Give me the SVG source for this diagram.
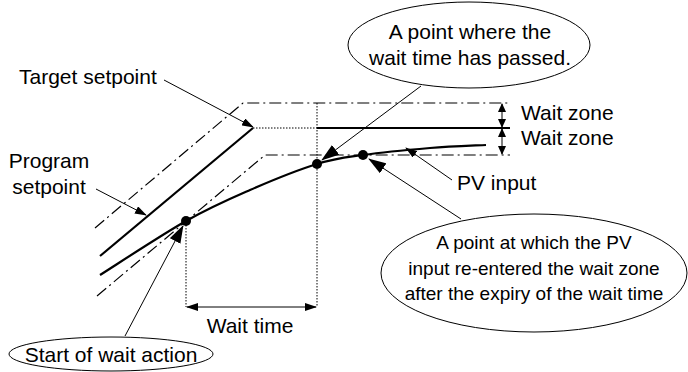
<svg xmlns="http://www.w3.org/2000/svg" width="688" height="372" viewBox="0 0 688 372">
<style>
text{font-family:"Liberation Sans",Arial,sans-serif;font-size:21px;fill:#000}
.sm{font-size:19px}
.dd{fill:none;stroke:#000;stroke-width:1.2;stroke-dasharray:12 4 2 4}
.dot{fill:none;stroke:#000;stroke-width:1;stroke-dasharray:1.5 1.5}
.thick{fill:none;stroke:#000;stroke-width:2.2}
.lead{fill:none;stroke:#000;stroke-width:1}
.bubble{fill:#fff;stroke:#000;stroke-width:1}
</style>
<defs>
<marker id="big" markerUnits="userSpaceOnUse" markerWidth="18" markerHeight="12" refX="17" refY="6" orient="auto"><path d="M0,0 L18,6 L0,12 z" fill="#000"/></marker>
<marker id="small" markerUnits="userSpaceOnUse" markerWidth="12" markerHeight="8" refX="11" refY="4" orient="auto"><path d="M0,0 L12,4 L0,8 z" fill="#000"/></marker>
<marker id="tiny" markerUnits="userSpaceOnUse" markerWidth="9" markerHeight="8" refX="8" refY="4" orient="auto-start-reverse"><path d="M0,0 L9,4 L0,8 z" fill="#000"/></marker>
<marker id="dim" markerUnits="userSpaceOnUse" markerWidth="12" markerHeight="8" refX="11" refY="4" orient="auto-start-reverse"><path d="M0,0 L12,4 L0,8 z" fill="#000"/></marker>
</defs>

<g id="chart">
<polyline class="dd" points="95,228 243,103 510,103"/>
<polyline class="dd" points="97,296 265,155 510,155"/>
<line class="thick" x1="100" y1="256" x2="253" y2="128"/>
<line class="dot" x1="253" y1="128" x2="317" y2="128"/>
<line class="thick" x1="317" y1="128" x2="510" y2="128"/>
<line class="dot" x1="317" y1="103" x2="317" y2="307"/>
<line class="dot" x1="186" y1="222" x2="186" y2="307"/>
<path class="thick" d="M100,275 C114.3,266 161,235.2 186,221 C211,206.8 228.2,199.5 250,190 C271.8,180.5 298.2,169.8 317,164 C335.8,158.2 344.2,157.7 363,155 C381.8,152.3 409.5,149.7 430,148 C450.5,146.3 476.7,145.5 486,145"/>
<circle cx="186" cy="221" r="5"/>
<circle cx="317" cy="164" r="5"/>
<circle cx="363" cy="155" r="5"/>
</g>

<g id="connectors">
<line class="lead" x1="187" y1="307" x2="316" y2="307" marker-start="url(#dim)" marker-end="url(#dim)"/>
<line class="lead" x1="502" y1="104" x2="502" y2="127" marker-start="url(#tiny)" marker-end="url(#tiny)"/>
<line class="lead" x1="502" y1="129" x2="502" y2="154" marker-start="url(#tiny)" marker-end="url(#tiny)"/>
<line class="lead" x1="164" y1="80" x2="253" y2="127" marker-end="url(#small)"/>
<line class="lead" x1="96" y1="189" x2="146" y2="215" marker-end="url(#small)"/>
<line class="lead" x1="421" y1="86" x2="322" y2="160" marker-end="url(#big)"/>
<line class="lead" x1="452" y1="180" x2="406" y2="148" marker-end="url(#small)"/>
<line class="lead" x1="461" y1="219" x2="369" y2="159" marker-end="url(#big)"/>
<line class="lead" x1="125" y1="336" x2="183" y2="226" marker-end="url(#big)"/>
</g>

<g id="target-label"><text x="19" y="84">Target setpoint</text></g>
<g id="program-label"><text x="49" y="168" text-anchor="middle">Program</text><text x="49" y="194" text-anchor="middle">setpoint</text></g>
<g id="wait-zone-labels"><text x="521" y="120">Wait zone</text><text x="521" y="145">Wait zone</text></g>
<g id="pv-label"><text x="457" y="190">PV input</text></g>
<g id="wait-time-label"><text x="250" y="333" text-anchor="middle">Wait time</text></g>

<g id="passed-bubble">
<ellipse class="bubble" cx="469" cy="45" rx="121" ry="43"/>
<text x="470" y="39" text-anchor="middle">A point where the</text>
<text x="470" y="65" text-anchor="middle">wait time has passed.</text>
</g>

<g id="reentered-bubble">
<ellipse class="bubble" cx="534" cy="273" rx="153" ry="59"/>
<text class="sm" x="534" y="249" text-anchor="middle">A point at which the PV</text>
<text class="sm" x="534" y="275" text-anchor="middle">input re-entered the wait zone</text>
<text class="sm" x="534" y="300" text-anchor="middle">after the expiry of the wait time</text>
</g>

<g id="start-bubble">
<ellipse class="bubble" cx="111" cy="354" rx="102" ry="17"/>
<text x="111" y="362" text-anchor="middle">Start of wait action</text>
</g>
</svg>
